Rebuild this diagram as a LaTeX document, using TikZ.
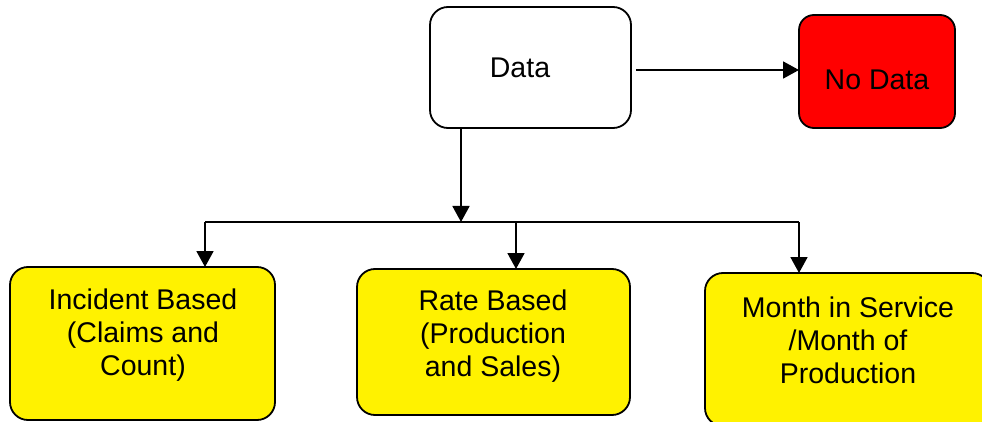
\documentclass[tikz,border=0pt]{standalone}
\usepackage{fontspec}
\setmainfont{Liberation Sans}
\usetikzlibrary{arrows.meta}
\begin{document}
\begin{tikzpicture}[x=1pt,y=-1pt,
  box/.style={draw=black,line width=1.8pt,rounded corners=18pt,inner sep=0pt,outer sep=0pt},
  txt/.style={align=center,inner sep=0pt,font=\fontsize{28.5}{33}\selectfont},
  arr/.style={line width=1.8pt,-{Triangle[length=16pt,width=17pt]}},
  ln/.style={line width=1.8pt}]
  \useasboundingbox (0,0) rectangle (982,422);
  \clip (0,0) rectangle (982,422);
  % top row
  \node[box,fill=white,minimum width=201pt,minimum height=121pt] (data) at (530.5,67.5) {};
  \node[txt] (datat) at (520,68) {Data};
  \node[box,fill=red,rounded corners=15pt,minimum width=156pt,minimum height=113pt] (nodata) at (877,71.5) {};
  \node[txt] (nodatat) at (877,80) {No Data};
  % bottom row
  \node[box,fill=yellow,minimum width=265pt,minimum height=153pt] (inc) at (142.5,343.5) {};
  \node[txt] (inct) at (143,335) {Incident Based\\(Claims and\\Count)};
  \node[box,fill=yellow,minimum width=273pt,minimum height=146pt] (rate) at (493.5,342) {};
  \node[txt] (ratet) at (493,336) {Rate Based\\(Production\\and Sales)};
  \node[box,fill=yellow,minimum width=285pt,minimum height=153pt] (mis) at (847.5,349.5) {};
  \node[txt] (mist) at (848,340) {Month in Service\\/Month of\\Production};
  % connectors
  \coordinate (s) at (636,70);
  \draw[arr] (s) -- (nodata.west |- s);
  \coordinate (j) at (461,222);
  \coordinate (jl) at (205,222);
  \coordinate (jm) at (516,222);
  \coordinate (jr) at (799,222);
  \draw[arr] (data.south -| j) -- (j);
  \draw[ln] (jl) -- (jr);
  \draw[arr] (jl) -- (inc.north -| jl);
  \draw[arr] (jm) -- (rate.north -| jm);
  \draw[arr] (jr) -- (mis.north -| jr);
\end{tikzpicture}
\end{document}
